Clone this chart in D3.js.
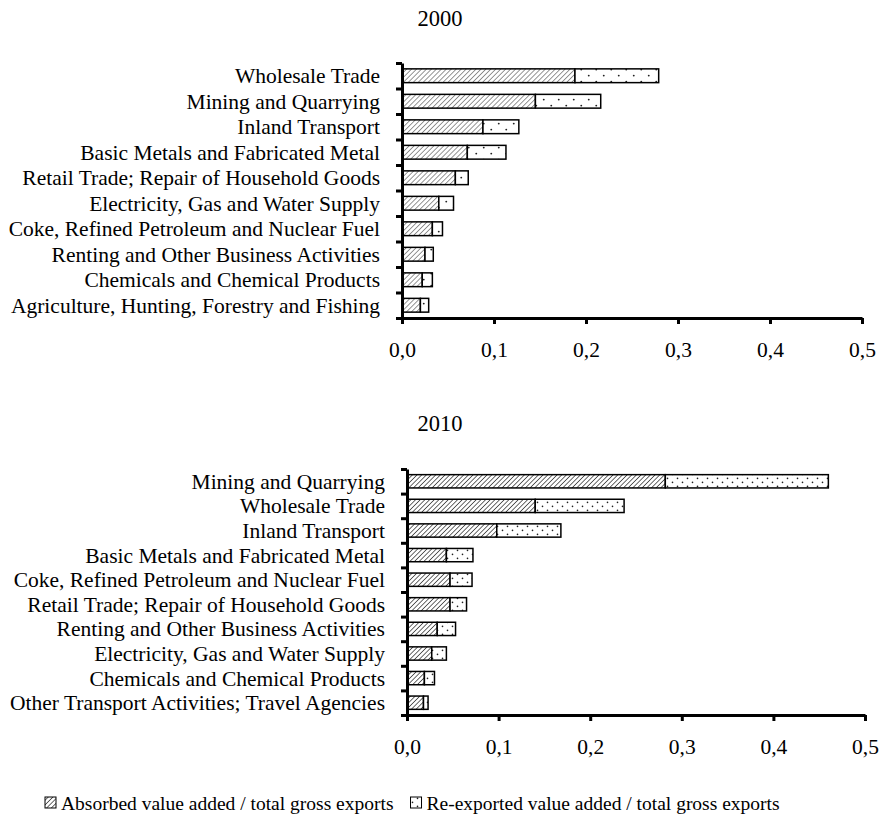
<!DOCTYPE html>
<html>
<head>
<meta charset="utf-8">
<script src="https://cdn.jsdelivr.net/npm/d3@7"></script>
<style>
  html, body { margin: 0; padding: 0; background: #fff; }
  svg { display: block; }
  text { font-family: "Liberation Serif", "Times New Roman", serif; fill: #000; }
</style>
</head>
<body>
<svg id="chart" width="879" height="821"></svg>
<script>
// Sectors ranked by share of domestic value added in gross exports
const categories2000 = [
  "Wholesale Trade",
  "Mining and Quarrying",
  "Inland Transport",
  "Basic Metals and Fabricated Metal",
  "Retail Trade; Repair of Household Goods",
  "Electricity, Gas and Water Supply",
  "Coke, Refined Petroleum and Nuclear Fuel",
  "Renting and Other Business Activities",
  "Chemicals and Chemical Products",
  "Agriculture, Hunting, Forestry and Fishing"
];
const absorbed2000   = [0.188, 0.145, 0.088, 0.071, 0.058, 0.040, 0.033, 0.025, 0.022, 0.020];
const reexported2000 = [0.091, 0.071, 0.039, 0.042, 0.014, 0.016, 0.011, 0.009, 0.011, 0.009];

const categories2010 = [
  "Mining and Quarrying",
  "Wholesale Trade",
  "Inland Transport",
  "Basic Metals and Fabricated Metal",
  "Coke, Refined Petroleum and Nuclear Fuel",
  "Retail Trade; Repair of Household Goods",
  "Renting and Other Business Activities",
  "Electricity, Gas and Water Supply",
  "Chemicals and Chemical Products",
  "Other Transport Activities; Travel Agencies"
];
const absorbed2010   = [0.282, 0.140, 0.098, 0.043, 0.047, 0.047, 0.033, 0.027, 0.019, 0.018];
const reexported2010 = [0.178, 0.097, 0.070, 0.029, 0.024, 0.018, 0.020, 0.016, 0.011, 0.005];

const xTicks = [0, 0.1, 0.2, 0.3, 0.4, 0.5];
const seriesNames = [
  "Absorbed value added / total gross exports",
  "Re-exported value added / total gross exports"
];

const svg = d3.select("#chart");
const defs = svg.append("defs");

// Diagonal hatch for absorbed value added
function hatch(id, color, size) {
  const p = defs.append("pattern")
    .attr("id", id).attr("patternUnits", "userSpaceOnUse")
    .attr("width", size).attr("height", size)
    .attr("patternTransform", "rotate(45)");
  p.append("rect").attr("width", size).attr("height", size).attr("fill", "#fff");
  p.append("line").attr("x1", 0).attr("y1", 0).attr("x2", 0).attr("y2", size)
    .attr("stroke", color).attr("stroke-width", 1.4);
}
// Sparse dot fill for re-exported value added
function dots(id, w, h, r) {
  const p = defs.append("pattern")
    .attr("id", id).attr("patternUnits", "userSpaceOnUse")
    .attr("width", w).attr("height", h);
  p.append("rect").attr("width", w).attr("height", h).attr("fill", "#fff");
  p.append("circle").attr("cx", w * 0.25).attr("cy", h * 0.3).attr("r", r).attr("fill", "#222");
  p.append("circle").attr("cx", w * 0.75).attr("cy", h * 0.8).attr("r", r).attr("fill", "#222");
}
hatch("hatchA", "#6a6a6a", 3.5);
hatch("hatchB", "#2a2a2a", 3.3);
dots("dotsA", 15, 12, 0.95);
dots("dotsB", 10, 8, 0.8);

const fmt = d => d3.format(".1f")(d).replace(".", ",");

function panel(cfg) {
  const { title, titleY, cats, absorbed, reexp, x0, x1, y0, y1, hatchId, dotId } = cfg;
  const g = svg.append("g");

  const x = d3.scaleLinear().domain([0, 0.5]).range([x0, x1]);
  const y = d3.scaleBand().domain(cats).range([y0, y1]).paddingInner(0.46).paddingOuter(0.23);
  const yIdx = d3.scaleLinear().domain([0, cats.length]).range([y0, y1]);

  g.append("text").attr("x", 440).attr("y", titleY)
    .attr("text-anchor", "middle").attr("font-size", 22.5).text(title);

  const rows = cats.map((c, i) => ({ c, a: absorbed[i], r: reexp[i] }));

  // absorbed segment
  g.selectAll(".a").data(rows).join("rect")
    .attr("x", x(0)).attr("y", d => y(d.c))
    .attr("width", d => x(d.a) - x(0)).attr("height", y.bandwidth())
    .attr("fill", `url(#${hatchId})`).attr("stroke", "#000").attr("stroke-width", 1.5);
  // re-exported segment stacked after it
  g.selectAll(".r").data(rows).join("rect")
    .attr("x", d => x(d.a)).attr("y", d => y(d.c))
    .attr("width", d => x(d.a + d.r) - x(d.a)).attr("height", y.bandwidth())
    .attr("fill", `url(#${dotId})`).attr("stroke", "#000").attr("stroke-width", 1.5);

  // category labels
  g.selectAll(".lab").data(rows).join("text")
    .attr("x", x0 - 22).attr("y", d => y(d.c) + y.bandwidth() / 2)
    .attr("dy", "0.35em").attr("text-anchor", "end").attr("font-size", 21.5)
    .text(d => d.c);

  // vertical axis with ticks on band boundaries
  const ya = g.append("g").attr("transform", `translate(${x0},0)`)
    .call(d3.axisLeft(yIdx).tickValues(d3.range(cats.length + 1)).tickFormat("").tickSize(6).tickSizeOuter(0));
  ya.select(".domain").attr("stroke-width", 3);
  ya.selectAll(".tick line").attr("stroke-width", 3);

  // horizontal axis
  const xa = g.append("g").attr("transform", `translate(0,${y1})`)
    .call(d3.axisBottom(x).tickValues(xTicks).tickFormat(fmt).tickSize(6).tickSizeOuter(0).tickPadding(18));
  xa.select(".domain").attr("stroke-width", 3);
  xa.selectAll(".tick line").attr("stroke-width", 3);
  xa.selectAll(".tick text").attr("font-size", 21.5)
    .style("font-family", "'Liberation Serif', 'Times New Roman', serif");
}

panel({ title: "2000", titleY: 26, cats: categories2000, absorbed: absorbed2000, reexp: reexported2000,
        x0: 402, x1: 862, y0: 63, y1: 318, hatchId: "hatchA", dotId: "dotsA" });
panel({ title: "2010", titleY: 431, cats: categories2010, absorbed: absorbed2010, reexp: reexported2010,
        x0: 407, x1: 865, y0: 469, y1: 715, hatchId: "hatchB", dotId: "dotsB" });

// legend: swatch + label, laid out left to right
const legend = svg.append("g");
const legendFills = ["url(#hatchB)", "url(#dotsB)"];
let lx = 45;
seriesNames.forEach((name, i) => {
  legend.append("rect")
    .attr("x", lx).attr("y", 797).attr("width", 11).attr("height", 11)
    .attr("fill", legendFills[i]).attr("stroke", "#000").attr("stroke-width", 1);
  const t = legend.append("text")
    .attr("x", lx + 16).attr("y", 810).attr("font-size", 19.5)
    .text(name);
  lx += 16 + t.node().getComputedTextLength() + 17;
});
</script>
</body>
</html>
